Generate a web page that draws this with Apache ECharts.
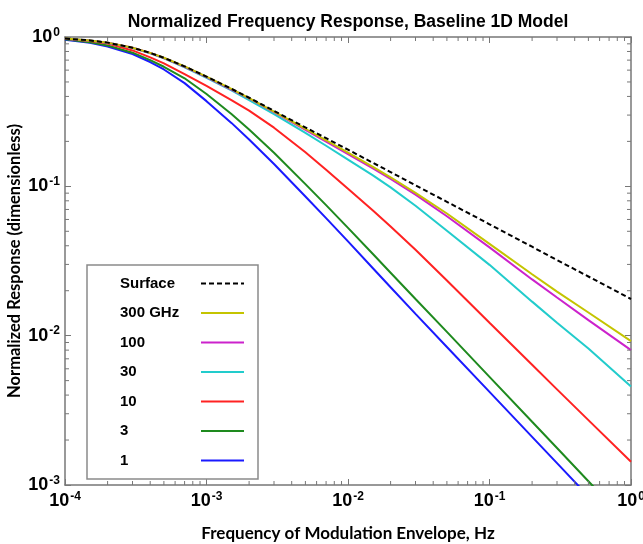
<!DOCTYPE html>
<html><head><meta charset="utf-8">
<script src="https://cdn.jsdelivr.net/npm/echarts@6/dist/echarts.min.js"></script>
<style>html,body{margin:0;padding:0;background:#fff}#c{width:643px;height:544px}</style>
</head><body><div id="c"></div>
<script>
// ---- data ----
const freq    = [1e-4, 1.5e-4, 2e-4, 3e-4, 4e-4, 5e-4, 7e-4, 1e-3, 1.5e-3, 2e-3, 3e-3, 5e-3, 7e-3, 1e-2, 1.5e-2, 2e-2, 3e-2, 5e-2, 0.1, 0.2, 0.3, 0.5, 1];
const surface = [0.976, 0.949, 0.917, 0.848, 0.783, 0.726, 0.636, 0.543, 0.450, 0.392, 0.320, 0.248, 0.210, 0.176, 0.1437, 0.1245, 0.1016, 0.0788, 0.0557, 0.0394, 0.0321, 0.0249, 0.0176];
const ghz300  = [0.976, 0.949, 0.917, 0.848, 0.783, 0.726, 0.636, 0.543, 0.449, 0.390, 0.317, 0.243, 0.2035, 0.168, 0.1352, 0.115, 0.0904, 0.0658, 0.0412, 0.0258, 0.0197, 0.0143, 0.0092];
const ghz100  = [0.975, 0.948, 0.916, 0.847, 0.781, 0.723, 0.632, 0.538, 0.445, 0.388, 0.314, 0.239, 0.199, 0.1646, 0.1318, 0.112, 0.0879, 0.0630, 0.0390, 0.0238, 0.0180, 0.0127, 0.0080];
const ghz30   = [0.975, 0.948, 0.915, 0.845, 0.779, 0.720, 0.627, 0.532, 0.439, 0.378, 0.304, 0.228, 0.187, 0.151, 0.1185, 0.0984, 0.0742, 0.0504, 0.0298, 0.0169, 0.0122, 0.0082, 0.00456];
const ghz10   = [0.972, 0.940, 0.905, 0.813, 0.730, 0.665, 0.565, 0.470, 0.378, 0.321, 0.247, 0.169, 0.129, 0.0963, 0.0690, 0.0538, 0.0376, 0.0234, 0.0122, 0.00638, 0.00437, 0.00272, 0.00143];
const ghz3    = [0.965, 0.923, 0.876, 0.785, 0.700, 0.632, 0.529, 0.415, 0.305, 0.240, 0.168, 0.1035, 0.0748, 0.0527, 0.0352, 0.0264, 0.0176, 0.0106, 0.0053, 0.00265, 0.00177, 0.00106, 0.00053];
const ghz1    = [0.960, 0.914, 0.864, 0.768, 0.680, 0.606, 0.491, 0.372, 0.266, 0.206, 0.141, 0.0855, 0.0613, 0.0428, 0.0283, 0.0211, 0.0140, 0.0084, 0.0042, 0.0021, 0.0014, 0.00084, 0.00042];
const seriesNames = ['Surface', '300 GHz', '100', '30', '10', '3', '1'];
const xTickExp = ['-4', '-3', '-2', '-1', '0'];
const yTickExp = ['-3', '-2', '-1', '0'];

// ---- styling ----
const axisColor = '#777777';
const X_MIN = 1e-4, X_MAX = 1, Y_MIN = 1e-3, Y_MAX = 1;
const colors = { 'Surface': '#000000', '300 GHz': '#c4c400', '100': '#cc22cc', '30': '#22cccc', '10': '#ff2222', '3': '#1e8a1e', '1': '#1a1aff' };
const values = { 'Surface': surface, '300 GHz': ghz300, '100': ghz100, '30': ghz30, '10': ghz10, '3': ghz3, '1': ghz1 };

function minorVals(lo, hi) {
  const out = [];
  for (let d = lo; d < hi; d *= 10) for (let m = 2; m <= 9; m++) out.push(d * m);
  return out;
}
const xMinor = minorVals(X_MIN, X_MAX);
const yMinor = minorVals(Y_MIN, Y_MAX);

const labelRich = {
  b: { fontSize: 18, fontWeight: 'bold', fontFamily: 'Liberation Sans', color: '#000' },
  s: { fontSize: 12, fontWeight: 'bold', fontFamily: 'Liberation Sans', color: '#000', padding: [0, 0, 9, 1] }
};
function expLabel(v, arr, lo) {
  const i = Math.round(Math.log10(v) - Math.log10(lo));
  return '{b|10}{s|' + arr[i] + '}';
}

const lineSeries = seriesNames.slice().reverse().map(name => ({
  name, type: 'line', xAxisIndex: 0, yAxisIndex: 0,
  data: freq.map((f, i) => [f, values[name][i]]),
  showSymbol: false, symbol: 'none', clip: true,
  lineStyle: { color: colors[name], width: 2, type: name === 'Surface' ? [5, 3] : 'solid' },
  itemStyle: { color: colors[name] },
  emphasis: { disabled: true }
}));

const tickSeriesX = {
  type: 'custom', xAxisIndex: 0, yAxisIndex: 0, silent: true, z: 10,
  data: xMinor.map(v => [v, Y_MIN]), encode: { x: 0, y: 1 },
  renderItem: (p, api) => {
    const v = api.value(0);
    const b = api.coord([v, Y_MIN]), t = api.coord([v, Y_MAX]);
    const st = { stroke: axisColor, lineWidth: 1 };
    return { type: 'group', children: [
      { type: 'line', shape: { x1: b[0], y1: b[1], x2: b[0], y2: b[1] - 4 }, style: st },
      { type: 'line', shape: { x1: t[0], y1: t[1], x2: t[0], y2: t[1] + 4 }, style: st }
    ]};
  }
};
const tickSeriesY = {
  type: 'custom', xAxisIndex: 0, yAxisIndex: 0, silent: true, z: 10,
  data: yMinor.map(v => [X_MIN, v]), encode: { x: 0, y: 1 },
  renderItem: (p, api) => {
    const v = api.value(1);
    const l = api.coord([X_MIN, v]), r = api.coord([X_MAX, v]);
    const st = { stroke: axisColor, lineWidth: 1 };
    return { type: 'group', children: [
      { type: 'line', shape: { x1: l[0], y1: l[1], x2: l[0] + 4, y2: l[1] }, style: st },
      { type: 'line', shape: { x1: r[0], y1: r[1], x2: r[0] - 4, y2: r[1] }, style: st }
    ]};
  }
};

const axisCommon = {
  type: 'log', logBase: 10,
  axisLine: { show: true, onZero: false, lineStyle: { color: axisColor, width: 1.5 } },
  axisTick: { show: true, inside: true, length: 6, lineStyle: { color: axisColor, width: 1 } },
  splitLine: { show: false }, minorTick: { show: false }, minorSplitLine: { show: false }
};

const option = {
  animation: false,
  backgroundColor: '#fff',
  title: {
    text: 'Normalized Frequency Response, Baseline 1D Model',
    left: 343, top: 8, textAlign: 'center',
    textStyle: { fontSize: 17.5, fontWeight: 'bold', fontFamily: 'Liberation Sans', color: '#000' }
  },
  grid: { left: 65, right: 12, top: 37, bottom: 59, containLabel: false, outerBoundsMode: 'none' },
  xAxis: [
    Object.assign({}, axisCommon, {
      position: 'bottom', min: X_MIN, max: X_MAX, splitNumber: 4,
      axisLabel: { margin: 6, formatter: v => expLabel(v, xTickExp, X_MIN), rich: labelRich },
      name: 'Frequency of Modulation Envelope, Hz', nameLocation: 'middle', nameGap: 40, nameMoveOverlap: false,
      nameTextStyle: { fontSize: 17, fontWeight: 'bold', fontFamily: 'Lato', color: '#000' }
    }),
    Object.assign({}, axisCommon, {
      position: 'top', min: X_MIN, max: X_MAX, splitNumber: 4, axisLabel: { show: false }
    })
  ],
  yAxis: [
    Object.assign({}, axisCommon, {
      position: 'left', min: Y_MIN, max: Y_MAX, splitNumber: 3,
      axisLabel: { margin: 5, formatter: v => expLabel(v, yTickExp, Y_MIN), rich: labelRich },
      name: 'Normalized Response (dimensionless)', nameLocation: 'middle', nameGap: 42, nameMoveOverlap: false,
      nameTextStyle: { fontSize: 16.5, fontWeight: 'bold', fontFamily: 'Lato', color: '#000' }
    }),
    Object.assign({}, axisCommon, {
      position: 'right', min: Y_MIN, max: Y_MAX, splitNumber: 3, axisLabel: { show: false }
    })
  ],
  legend: {
    data: seriesNames,
    orient: 'vertical', left: 87, top: 265, align: 'right',
    itemWidth: 43, itemHeight: 14, itemGap: 14.5,
    padding: [11, 13, 11, 33],
    borderColor: '#8a8a8a', borderWidth: 1.5, backgroundColor: '#fff',
    selectedMode: false,
    itemStyle: { opacity: 0 },
    formatter: n => '{t|' + n + '}',
    textStyle: { rich: { t: { width: 76, align: 'left', fontSize: 15, fontWeight: 'bold', fontFamily: 'Liberation Sans', color: '#000' } } }
  },
  series: lineSeries.concat([tickSeriesX, tickSeriesY])
};

const chart = echarts.init(document.getElementById('c'), null, { renderer: 'canvas' });
chart.setOption(option);
</script>
</body></html>
